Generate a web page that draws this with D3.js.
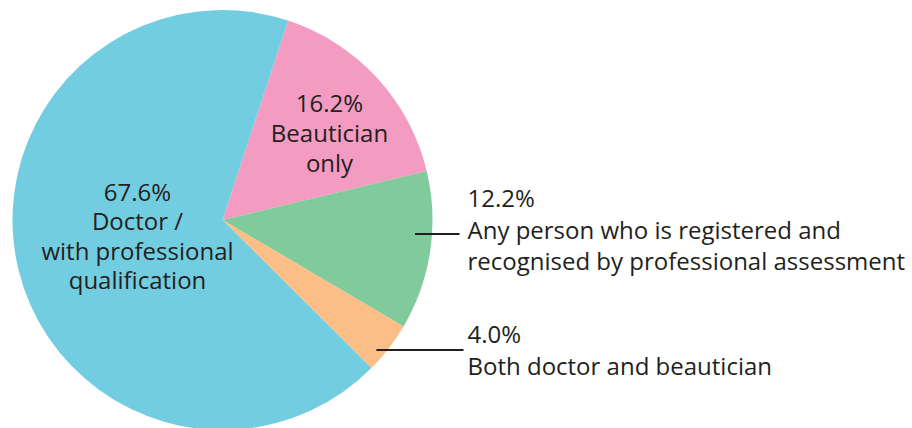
<!DOCTYPE html>
<html>
<head>
<meta charset="utf-8">
<script src="https://cdn.jsdelivr.net/npm/d3@7"></script>
<style>
  body { margin: 0; background: #fff; }
  text { font-family: "Open Sans", "Noto Sans", sans-serif; fill: #231f20; }
</style>
</head>
<body>
<div id="chart"></div>
<script>
// slice data, clockwise from the pink wedge
var categories = ["Beautician only", "Any person who is registered and recognised by professional assessment", "Both doctor and beautician", "Doctor / with professional qualification"];
var values = [16.2, 12.2, 4.0, 67.6];
var colors = ["#f39bc0", "#81ca9c", "#fbbe87", "#72cde0"];
// label lines per slice (first line is the percentage)
var labelLines = [
    ["16.2%", "Beautician", "only"],
    ["12.2%", "Any person who is registered and", "recognised by professional assessment"],
    ["4.0%", "Both doctor and beautician"],
    ["67.6%", "Doctor /", "with professional", "qualification"]
];

(function () {
    var width = 912, height = 428;
    var cx = 222.5, cy = 220, radius = 210;
    var fontSize = 24, lineH = 30;

    var degToRad = deg => deg * Math.PI / 180;

    var svg = d3.select("#chart").append("svg")
        .attr("width", width)
        .attr("height", height);

    var chart = svg.append("g")
        .attr("transform", "translate(" + cx + "," + cy + ")");

    var pie = d3.pie()
        .sort(null)
        .value(d => d)
        .startAngle(degToRad(18.2))
        .endAngle(degToRad(18.2) + 2 * Math.PI);

    var arc = d3.arc().innerRadius(0).outerRadius(radius);

    var arcs = pie(values);

    chart.selectAll("path.slice")
        .data(arcs)
        .enter().append("path")
        .attr("class", "slice")
        .attr("d", arc)
        .attr("fill", (d, i) => colors[i]);

    // inside labels: pink (0) and blue (3)
    var inside = [
        { i: 0, x: 107, y: -108 },
        { i: 3, x: -85, y: -19 }
    ];
    inside.forEach(function (lab) {
        var t = chart.append("text")
            .attr("text-anchor", "middle")
            .attr("font-size", fontSize);
        labelLines[lab.i].forEach(function (line, k) {
            t.append("tspan")
                .attr("x", lab.x)
                .attr("y", lab.y + k * (lab.i == 3 ? 29.3 : lineH))
                .text(line);
        });
    });

    // outside labels with leader lines: green (1) and orange (2)
    var outside = [
        { i: 1, leadY: 14, inset: 17, lineEnd: 237, textX: 245, textY: -13, lh: 31.5 },
        { i: 2, leadY: 130, inset: 11, lineEnd: 241, textX: 245, textY: 123, lh: 31.5 }
    ];
    outside.forEach(function (lab) {
        var edgeX = Math.sqrt(radius * radius - lab.leadY * lab.leadY);
        chart.append("line")
            .attr("x1", edgeX - lab.inset)
            .attr("x2", lab.lineEnd)
            .attr("y1", lab.leadY)
            .attr("y2", lab.leadY)
            .attr("stroke", "#231f20")
            .attr("stroke-width", 2);
        var t = chart.append("text")
            .attr("font-size", fontSize);
        labelLines[lab.i].forEach(function (line, k) {
            t.append("tspan")
                .attr("x", lab.textX)
                .attr("y", lab.textY + k * lab.lh)
                .text(line);
        });
    });
})();
</script>
</body>
</html>
